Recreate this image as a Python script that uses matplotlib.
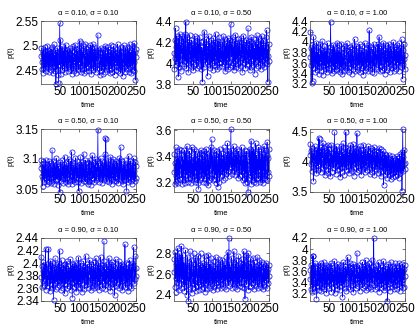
import numpy as np
import matplotlib
matplotlib.use('Agg')
import matplotlib.pyplot as plt
from matplotlib.ticker import FormatStrFormatter

plt.rcParams['font.family'] = ['Liberation Sans', 'DejaVu Sans']

# time axis
t = np.arange(1, 251)
xticks = [50, 100, 150, 200, 250]

# panel titles (row = alpha, column = sigma)
alphas = ['0.10', '0.50', '0.90']
sigmas = ['0.10', '0.50', '1.00']

# p(t) values, stored as integers in the given unit
p_a10_s10 = [2478, 2495, 2452, 2466, 2488, 2471, 2445, 2492, 2460, 2483, 2455, 2497, 2468, 2449, 2486, 2474, 2458, 2500, 2463, 2481, 2447, 2490, 2469, 2456, 2484,
             2462, 2493, 2451, 2476, 2498, 2457, 2485, 2444, 2472, 2503, 2459, 2480, 2448, 2491, 2422, 2467, 2487, 2453, 2496, 2470, 2441, 2425, 2489, 2461, 2545,
             2475, 2512, 2443, 2482, 2464, 2499, 2450, 2477, 2490, 2458, 2471, 2494, 2446, 2485, 2466, 2502, 2454, 2479, 2460, 2492, 2449, 2473, 2488, 2457, 2483,
             2465, 2496, 2452, 2480, 2470, 2443, 2490, 2461, 2499, 2455, 2476, 2448, 2486, 2468, 2501, 2459, 2482, 2445, 2494, 2472, 2456, 2489, 2463, 2478, 2451,
             2495, 2510, 2466, 2484, 2447, 2506, 2458, 2491, 2469, 2452, 2487, 2475, 2499, 2444, 2481, 2462, 2504, 2455, 2478, 2449, 2493, 2467, 2485, 2459, 2497,
             2471, 2448, 2489, 2463, 2501, 2454, 2480, 2442, 2495, 2466, 2476, 2503, 2450, 2487, 2461, 2498, 2457, 2483, 2446, 2492, 2469, 2479, 2452, 2486, 2522,
             2474, 2491, 2455, 2468, 2440, 2484, 2462, 2496, 2449, 2477, 2459, 2488, 2443, 2470, 2493, 2456, 2481, 2447, 2500, 2465, 2452, 2485, 2473, 2458, 2490,
             2464, 2497, 2450, 2479, 2468, 2444, 2487, 2460, 2502, 2453, 2476, 2491, 2446, 2483, 2470, 2499, 2457, 2478, 2441, 2494, 2466, 2485, 2451, 2472, 2488,
             2459, 2503, 2448, 2480, 2467, 2492, 2454, 2476, 2445, 2498, 2462, 2486, 2450, 2473, 2438, 2490, 2465, 2501, 2456, 2482, 2447, 2495, 2469, 2458, 2484,
             2471, 2453, 2497, 2463, 2489, 2446, 2479, 2504, 2457, 2486, 2468, 2444, 2492, 2475, 2460, 2499, 2451, 2483, 2466, 2505, 2449, 2488, 2430, 2477, 2494]

p_a10_s50 = [410, 394, 422, 405, 433, 398, 415, 426, 401, 419, 408, 387, 424, 412, 396, 428, 403, 417, 392, 421, 409, 426, 399, 414, 404,
             423, 397, 411, 428, 402, 418, 439, 395, 413, 406, 425, 400, 416, 391, 420, 408, 427, 398, 412, 404, 422, 396, 417, 410, 401,
             419, 393, 414, 405, 426, 399, 411, 421, 403, 416, 395, 424, 408, 402, 418, 397, 413, 425, 400, 409, 420, 394, 415, 406, 382,
             412, 403, 421, 396, 430, 407, 414, 399, 418, 405, 423, 401, 410, 388, 416, 404, 426, 398, 411, 419, 395, 413, 407, 422, 400,
             417, 393, 409, 424, 402, 415, 398, 420, 406, 428, 397, 412, 403, 419, 394, 421, 408, 400, 425, 396, 414, 405, 418, 401, 411,
             404, 420, 397, 413, 426, 399, 410, 402, 423, 392, 416, 407, 419, 398, 412, 405, 424, 394, 417, 401, 409, 422, 396, 414, 437,
             406, 418, 398, 411, 425, 400, 415, 393, 421, 408, 402, 427, 396, 413, 404, 419, 399, 410, 423, 395, 416, 407, 420, 401, 412,
             397, 424, 405, 414, 391, 418, 409, 426, 400, 411, 403, 420, 395, 415, 408, 422, 398, 412, 404, 433, 399, 417, 406, 421, 393,
             413, 402, 425, 396, 410, 419, 404, 416, 398, 423, 407, 390, 414, 401, 420, 395, 411, 427, 403, 409, 418, 397, 424, 405, 415,
             400, 421, 394, 412, 406, 426, 398, 417, 403, 410, 422, 396, 414, 408, 419, 401, 425, 405, 431, 399, 413, 382, 407, 418, 402]

p_a10_s100 = [372, 420, 356, 388, 322, 364, 395, 325, 378, 410, 350, 384, 361, 392, 343, 376, 358, 399, 366, 347, 381, 355, 390, 369, 340,
              374, 352, 396, 363, 385, 345, 371, 402, 357, 379, 338, 368, 393, 354, 382, 362, 348, 387, 370, 342, 377, 398, 359, 366, 351,
              383, 365, 346, 391, 438, 360, 375, 341, 386, 356, 369, 395, 353, 378, 344, 389, 364, 349, 380, 358, 372, 399, 347, 367, 385,
              355, 376, 394, 343, 368, 381, 352, 397, 361, 339, 373, 357, 388, 366, 345, 379, 392, 354, 363, 350, 384, 371, 398, 346, 369,
              358, 382, 343, 375, 360, 391, 352, 386, 367, 340, 378, 363, 395, 349, 372, 356, 385, 405, 362, 344, 376, 393, 353, 368, 381,
              347, 371, 389, 357, 366, 396, 342, 379, 361, 384, 350, 374, 392, 355, 368, 338, 381, 363, 398, 346, 373, 359, 387, 365, 351,
              378, 362, 394, 345, 370, 422, 356, 383, 348, 375, 391, 360, 367, 343, 386, 372, 354, 397, 364, 341, 380, 369, 390, 352, 377,
              358, 385, 366, 396, 349, 374, 410, 361, 344, 388, 370, 355, 392, 363, 347, 381, 376, 399, 351, 368, 384, 340, 373, 395, 359,
              370, 346, 389, 362, 379, 353, 397, 366, 382, 342, 375, 357, 393, 368, 386, 350, 373, 361, 400, 345, 380, 364, 391, 354, 371,
              386, 349, 377, 395, 360, 368, 383, 344, 374, 398, 356, 365, 389, 352, 379, 405, 363, 372, 330, 385, 358, 396, 367, 348, 376]

p_a50_s10 = [3085, 3098, 3072, 3091, 3055, 3080, 3066, 3094, 3077, 3061, 3089, 3074, 3099, 3068, 3083, 3058, 3092, 3076, 3064, 3087, 3071, 3096, 3062, 3081, 3069,
             3093, 3075, 3060, 3088, 3115, 3070, 3084, 3063, 3097, 3078, 3059, 3090, 3073, 3086, 3065, 3101, 3079, 3067, 3092, 3074, 3057, 3088, 3070, 3083, 3045,
             3076, 3095, 3064, 3081, 3069, 3098, 3072, 3087, 3060, 3091, 3077, 3066, 3104, 3073, 3085, 3062, 3094, 3079, 3068, 3089, 3058, 3083, 3075, 3100, 3067,
             3080, 3063, 3096, 3071, 3086, 3112, 3074, 3059, 3090, 3078, 3065, 3093, 3070, 3084, 3061, 3102, 3076, 3088, 3066, 3081, 3097, 3069, 3085, 3062, 3047,
             3079, 3091, 3067, 3104, 3073, 3086, 3060, 3095, 3077, 3068, 3089, 3071, 3109, 3064, 3083, 3075, 3098, 3062, 3087, 3070, 3093, 3066, 3080, 3058, 3094,
             3074, 3088, 3063, 3099, 3072, 3084, 3057, 3092, 3076, 3106, 3067, 3081, 3069, 3095, 3073, 3061, 3090, 3078, 3100, 3065, 3086, 3071, 3096, 3079, 3148,
             3068, 3093, 3075, 3062, 3087, 3070, 3101, 3066, 3083, 3074, 3097, 3060, 3089, 3077, 3065, 3092, 3072, 3108, 3069, 3135, 3134, 3080, 3063, 3094, 3071,
             3085, 3067, 3099, 3076, 3061, 3090, 3073, 3104, 3068, 3082, 3059, 3095, 3074, 3087, 3066, 3100, 3079, 3063, 3091, 3070, 3086, 3064, 3097, 3075, 3081,
             3069, 3093, 3060, 3084, 3073, 3102, 3066, 3089, 3077, 3120, 3071, 3096, 3063, 3085, 3074, 3058, 3092, 3079, 3068, 3099, 3065, 3087, 3072, 3083, 3046,
             3078, 3094, 3067, 3088, 3061, 3105, 3073, 3082, 3070, 3097, 3064, 3090, 3076, 3059, 3093, 3071, 3086, 3066, 3101, 3074, 3080, 3063, 3095, 3069, 3088]

p_a50_s50 = [328, 342, 319, 335, 321, 347, 325, 338, 322, 344, 330, 320, 339, 326, 346, 323, 336, 331, 341, 345, 324, 333, 319, 340, 327,
             337, 322, 345, 329, 334, 320, 343, 326, 339, 348, 323, 332, 341, 321, 336, 328, 344, 324, 338, 330, 320, 347, 327, 335, 322,
             340, 325, 333, 346, 321, 338, 329, 344, 323, 336, 331, 342, 320, 335, 315, 339, 326, 343, 322, 334, 330, 345, 324, 337, 328,
             341, 321, 336, 327, 344, 323, 332, 339, 325, 346, 320, 334, 329, 342, 318, 337, 326, 343, 322, 335, 331, 347, 324, 338, 353,
             327, 340, 322, 336, 329, 345, 323, 333, 341, 326, 338, 320, 344, 330, 335, 317, 342, 328, 337, 321, 346, 332, 325, 339, 331,
             343, 326, 338, 322, 335, 347, 328, 340, 324, 336, 330, 345, 327, 341, 333, 350, 329, 339, 325, 344, 331, 337, 342, 334, 361,
             332, 345, 327, 340, 335, 329, 348, 333, 338, 326, 343, 331, 336, 341, 328, 346, 334, 339, 324, 344, 330, 337, 325, 342, 333,
             339, 326, 347, 331, 336, 322, 343, 329, 338, 324, 345, 320, 335, 341, 327, 344, 321, 337, 330, 313, 323, 334, 340, 346, 328,
             342, 325, 352, 319, 337, 344, 322, 339, 328, 346, 321, 336, 343, 326, 350, 320, 334, 341, 324, 338, 329, 347, 323, 335, 330,
             344, 321, 338, 327, 346, 322, 335, 342, 320, 337, 329, 348, 324, 340, 326, 345, 323, 336, 341, 351, 322, 339, 328, 346, 325]

p_a50_s100 = [412, 430, 396, 418, 385, 424, 401, 409, 392, 368, 415, 403, 427, 388, 410, 398, 420, 381, 407, 422, 394, 413, 386, 440, 402,
              438, 397, 416, 383, 425, 405, 392, 419, 408, 432, 389, 411, 400, 423, 378, 414, 395, 426, 404, 387, 417, 399, 428, 382, 409,
              421, 393, 406, 376, 415, 398, 429, 403, 384, 412, 396, 424, 390, 407, 450, 401, 418, 380, 411, 394, 426, 386, 405, 419, 397,
              414, 388, 422, 403, 375, 410, 399, 427, 392, 416, 384, 408, 431, 396, 413, 379, 402, 425, 391, 450, 406, 387, 418, 400, 423,
              393, 411, 381, 420, 404, 398, 428, 389, 415, 402, 385, 417, 396, 430, 408, 377, 413, 399, 424, 391, 406, 419, 383, 448, 401,
              412, 394, 421, 386, 409, 400, 426, 390, 414, 379, 403, 420, 397, 411, 388, 429, 405, 392, 417, 383, 408, 422, 395, 413, 399,
              386, 418, 402, 426, 391, 410, 380, 415, 398, 423, 389, 406, 412, 384, 420, 396, 409, 401, 425, 378, 414, 393, 407, 388, 419,
              403, 392, 416, 381, 410, 398, 424, 387, 405, 395, 421, 376, 408, 400, 413, 385, 418, 394, 362, 406, 390, 414, 379, 402, 411,
              396, 383, 409, 374, 400, 391, 412, 378, 398, 386, 405, 372, 394, 402, 381, 410, 389, 397, 375, 407, 384, 399, 390, 377, 404,
              388, 401, 379, 410, 392, 384, 406, 373, 398, 390, 413, 381, 395, 404, 386, 417, 352, 394, 455, 385, 408, 396, 420, 389, 399]

p_a90_s10 = [2410, 2378, 2395, 2362, 2388, 2371, 2402, 2383, 2366, 2397, 2375, 2390, 2423, 2358, 2385, 2399, 2369, 2381, 2364, 2423, 2392, 2373, 2387, 2356, 2404,
             2380, 2367, 2396, 2374, 2389, 2360, 2401, 2377, 2342, 2384, 2393, 2368, 2408, 2382, 2359, 2391, 2371, 2398, 2363, 2386, 2376, 2400, 2365, 2388, 2420,
             2372, 2394, 2357, 2383, 2405, 2369, 2390, 2378, 2361, 2397, 2374, 2385, 2352, 2399, 2380, 2367, 2392, 2376, 2403, 2360, 2387, 2371, 2396, 2382, 2364,
             2389, 2375, 2406, 2358, 2384, 2393, 2368, 2345, 2399, 2379, 2370, 2395, 2362, 2386, 2401, 2373, 2390, 2355, 2381, 2397, 2366, 2388, 2377, 2409, 2363,
             2392, 2371, 2384, 2360, 2400, 2376, 2389, 2354, 2396, 2380, 2368, 2403, 2374, 2387, 2359, 2394, 2378, 2412, 2365, 2385, 2372, 2398, 2361, 2390, 2379,
             2367, 2395, 2382, 2405, 2370, 2388, 2357, 2399, 2376, 2391, 2364, 2384, 2373, 2402, 2360, 2389, 2379, 2394, 2366, 2408, 2375, 2386, 2362, 2397, 2381,
             2370, 2401, 2384, 2358, 2392, 2376, 2410, 2365, 2388, 2379, 2397, 2361, 2385, 2372, 2404, 2435, 2368, 2394, 2380, 2359, 2390, 2374, 2399, 2366, 2387,
             2377, 2395, 2363, 2408, 2383, 2370, 2391, 2356, 2398, 2381, 2367, 2402, 2375, 2389, 2362, 2396, 2379, 2385, 2349, 2393, 2373, 2406, 2364, 2388, 2380,
             2394, 2368, 2386, 2375, 2403, 2360, 2390, 2378, 2397, 2365, 2384, 2371, 2399, 2357, 2387, 2381, 2395, 2366, 2392, 2376, 2430, 2362, 2388, 2373, 2401,
             2369, 2391, 2379, 2356, 2398, 2383, 2372, 2405, 2364, 2389, 2377, 2394, 2360, 2386, 2400, 2371, 2382, 2395, 2425, 2368, 2390, 2375, 2411, 2380, 2392]

p_a90_s50 = [262, 275, 248, 281, 256, 270, 243, 266, 278, 252, 285, 259, 273, 245, 280, 264, 251, 276, 258, 287, 247, 268, 255, 279, 261,
             250, 272, 244, 265, 257, 283, 249, 269, 240, 263, 254, 277, 246, 234, 260, 271, 253, 282, 248, 267, 256, 274, 242, 262, 258,
             270, 251, 280, 247, 263, 255, 276, 244, 266, 259, 273, 249, 260, 252, 278, 245, 264, 257, 269, 250, 280, 254, 267, 246, 261,
             256, 271, 248, 265, 253, 278, 243, 262, 268, 251, 274, 258, 246, 266, 255, 279, 249, 263, 252, 270, 247, 260, 276, 254, 264,
             250, 268, 257, 245, 273, 259, 248, 266, 254, 277, 251, 263, 246, 270, 256, 261, 252, 275, 249, 264, 258, 272, 247, 267, 255,
             262, 250, 274, 257, 266, 248, 271, 259, 253, 269, 246, 264, 277, 255, 260, 252, 281, 258, 249, 295, 256, 270, 261, 251, 267,
             254, 276, 258, 247, 265, 272, 250, 282, 256, 263, 248, 270, 259, 253, 274, 246, 267, 261, 251, 278, 255, 264, 249, 271, 257,
             266, 252, 275, 248, 262, 270, 255, 259, 282, 247, 273, 236, 264, 256, 279, 250, 268, 261, 253, 280, 245, 271, 258, 263, 249,
             275, 255, 262, 248, 270, 257, 266, 251, 276, 259, 246, 272, 254, 265, 249, 268, 260, 252, 277, 256, 247, 269, 261, 253, 274,
             250, 267, 258, 263, 248, 272, 255, 260, 246, 270, 257, 252, 266, 249, 268, 259, 254, 271, 247, 262, 256, 265, 251, 269, 258]

p_a90_s100 = [345, 362, 328, 371, 336, 354, 322, 388, 341, 388, 330, 359, 347, 375, 325, 366, 338, 310, 352, 369, 333, 357, 343, 372, 326,
              361, 339, 350, 374, 324, 356, 345, 368, 331, 360, 342, 377, 327, 353, 365, 336, 349, 371, 321, 358, 340, 367, 334, 355, 344,
              370, 329, 352, 363, 337, 375, 323, 348, 359, 341, 366, 332, 354, 346, 378, 320, 357, 343, 368, 335, 351, 362, 328, 373, 339,
              355, 344, 367, 326, 358, 340, 372, 333, 349, 363, 313, 352, 376, 337, 360, 345, 330, 369, 342, 357, 324, 364, 348, 377, 385,
              353, 368, 331, 359, 346, 374, 327, 356, 342, 365, 335, 361, 350, 373, 322, 357, 338, 367, 344, 354, 329, 370, 348, 393, 339,
              362, 334, 357, 347, 371, 325, 355, 341, 366, 336, 360, 349, 376, 330, 352, 364, 343, 358, 333, 369, 346, 380, 326, 371, 351,
              340, 365, 329, 356, 348, 374, 332, 361, 345, 368, 327, 353, 381, 338, 359, 347, 370, 420, 335, 354, 363, 328, 350, 372, 341,
              358, 331, 366, 344, 353, 376, 323, 349, 362, 337, 371, 345, 356, 330, 367, 339, 352, 378, 326, 361, 343, 357, 334, 369, 348,
              355, 329, 364, 306, 351, 373, 336, 358, 342, 367, 324, 354, 377, 338, 360, 346, 331, 369, 349, 357, 327, 365, 340, 374, 335,
              359, 344, 370, 328, 353, 366, 337, 362, 348, 375, 325, 356, 341, 368, 333, 358, 350, 373, 329, 361, 345, 364, 332, 371, 352]

series = [[p_a10_s10, p_a10_s50, p_a10_s100],
          [p_a50_s10, p_a50_s50, p_a50_s100],
          [p_a90_s10, p_a90_s50, p_a90_s100]]
units = [[0.001, 0.01, 0.01],
         [0.001, 0.01, 0.01],
         [0.001, 0.01, 0.01]]

yticks = [[[2.45, 2.5, 2.55], [3.8, 4, 4.2, 4.4], [3.2, 3.4, 3.6, 3.8, 4, 4.2, 4.4]],
          [[3.05, 3.1, 3.15], [3.2, 3.4, 3.6], [3.5, 4, 4.5]],
          [[2.34, 2.36, 2.38, 2.4, 2.42, 2.44], [2.4, 2.6, 2.8], [3.2, 3.4, 3.6, 3.8, 4, 4.2]]]

# axes placement in pixels
W, H = 416, 330
col_left = [41, 174, 310]
row_top = [21, 129, 238]
ax_w, ax_h = 95, 63

fig = plt.figure(figsize=(W / 100, H / 100), dpi=100)
for i in range(3):
    for j in range(3):
        ax = fig.add_axes([col_left[j] / W, 1 - (row_top[i] + ax_h) / H, ax_w / W, ax_h / H])
        p = np.array(series[i][j]) * units[i][j]
        ax.plot(t, p, color='#0000ff', lw=0.5, marker='o', ms=3.7, mfc='none',
                mew=0.5, clip_on=False)
        ax.set_xlim(t[0], t[-1])
        ax.set_ylim(p.min(), p.max())
        ax.set_xticks(xticks)
        ax.set_yticks(yticks[i][j])
        ax.yaxis.set_major_formatter(FormatStrFormatter('%g'))
        ax.tick_params(direction='in', length=2, width=0.5, labelsize=8.5,
                       top=True, right=True, pad=1.5, colors='#404040', labelcolor='black')
        for s in ax.spines.values():
            s.set_linewidth(0.5)
            s.set_color('#404040')
        ax.set_title(f'α = {alphas[i]}, σ = {sigmas[j]}', fontsize=5.5, pad=5)
        ax.set_xlabel('time', fontsize=5.5, labelpad=2.5)
        ax.set_ylabel('p(t)', fontsize=5.5, labelpad=1)

fig.savefig('out.png', dpi=100)
